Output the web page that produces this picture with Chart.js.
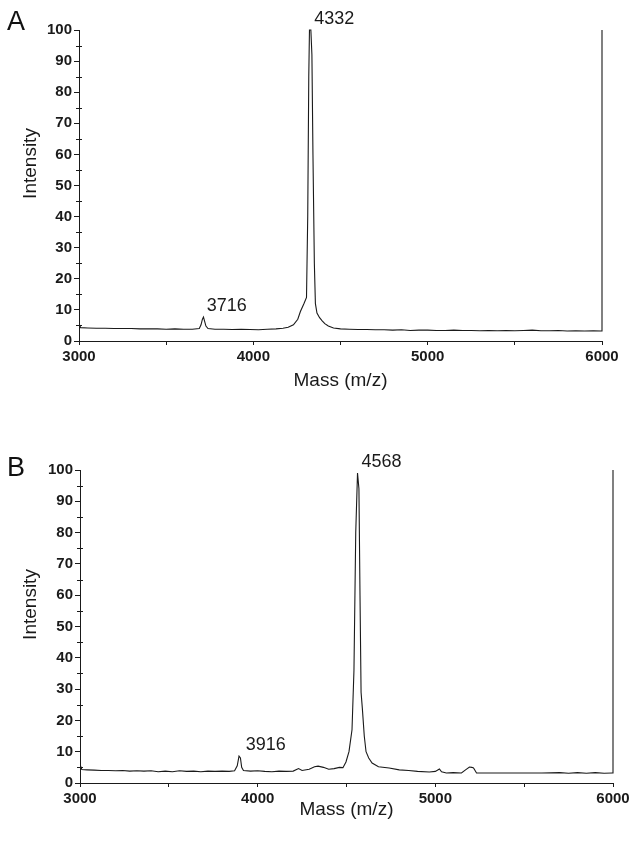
<!DOCTYPE html>
<html lang="en">
<head>
  <meta charset="UTF-8">
  <title>Mass spectra A / B</title>
  <script src="https://cdn.jsdelivr.net/npm/chart.js"></script>
  <style>
    html,
    body {
      margin: 0;
      padding: 0;
      background: #fff;
    }

    body {
      width: 644px;
      height: 845px;
      position: relative;
      overflow: hidden;
      font-family: "Liberation Sans", Arial, sans-serif;
    }

    .panel {
      position: absolute;
      left: 0;
      width: 644px;
    }

    #panelA { top: 0; }
    #panelB { top: 440px; }

    .letter {
      position: absolute;
      left: 7px;
      font-size: 27px;
      line-height: 27px;
      color: #111;
    }
  </style>
</head>

<body>
  <div class="panel" id="panelA">
    <canvas id="chartA" width="644" height="400"></canvas>
    <div class="letter" style="top:8px">A</div>
  </div>
  <div class="panel" id="panelB">
    <canvas id="chartB" width="644" height="390"></canvas>
    <div class="letter" style="top:14px">B</div>
  </div>

  <script>
    // Panel A spectrum
    const massA = [3000, 3004, 3010, 3050, 3100, 3150, 3200, 3250, 3300, 3350, 3400, 3450, 3500, 3550, 3600, 3650,
      3690, 3700, 3708, 3714, 3720, 3728, 3740, 3780, 3830, 3880, 3930, 3980, 4030, 4080, 4130, 4170, 4200, 4230,
      4255, 4270, 4290, 4305, 4312, 4318, 4322, 4330, 4336, 4342, 4350, 4356, 4365, 4380, 4395, 4410, 4430, 4460,
      4500, 4550, 4600, 4650, 4700, 4750, 4800, 4850, 4900, 4950, 5000, 5050, 5100, 5150, 5200, 5250, 5300, 5350,
      5400, 5450, 5500, 5550, 5600, 5650, 5700, 5750, 5800, 5850, 5900, 5950, 5995, 6000, 6000];
    const intensityA = [4.3, 5.1, 4.3, 4.2, 4.1, 4.1, 4.0, 4.0, 4.0, 3.9, 3.9, 3.9, 3.8, 3.9, 3.8, 3.8,
      4.0, 5.2, 7.0, 7.7, 6.5, 4.8, 4.0, 3.8, 3.8, 3.7, 3.8, 3.7, 3.6, 3.8, 3.9, 4.1, 4.4, 5.2,
      7.0, 9.5, 12.0, 14.0, 40, 85, 100, 100, 92, 60, 25, 12, 9, 7.5, 6.5, 5.6, 4.8, 4.2,
      3.9, 3.8, 3.7, 3.7, 3.6, 3.6, 3.5, 3.6, 3.4, 3.5, 3.5, 3.4, 3.4, 3.5, 3.4, 3.4, 3.3, 3.4,
      3.3, 3.4, 3.3, 3.4, 3.5, 3.3, 3.3, 3.4, 3.2, 3.3, 3.2, 3.3, 3.2, 3.2, 100];
    const peakMassA = [3716, 4332];
    const peakHeightA = [7.7, 100];

    // Panel B spectrum
    const massB = [3000, 3004, 3010, 3040, 3080, 3120, 3160, 3200, 3240, 3280, 3320, 3360, 3400, 3440, 3480, 3520,
      3560, 3600, 3640, 3680, 3720, 3760, 3800, 3840, 3870, 3885, 3895, 3903, 3910, 3920, 3960, 4000, 4040, 4080,
      4120, 4160, 4200, 4230, 4250, 4290, 4320, 4340, 4370, 4400, 4430, 4460, 4480, 4497, 4514, 4531, 4542, 4552,
      4562, 4570, 4576, 4582, 4589, 4600, 4610, 4625, 4644, 4680, 4740, 4797, 4850, 4900, 4966, 5000, 5023, 5035,
      5062, 5100, 5147, 5170, 5192, 5205, 5215, 5232, 5400, 5600, 5700, 5750, 5800, 5850, 5900, 5950, 5995, 6000, 6000];
    const intensityB = [4.6, 5.3, 4.3, 4.2, 4.1, 4.0, 4.0, 3.9, 4.0, 3.8, 3.9, 3.8, 3.9, 3.6, 3.8, 3.6,
      3.9, 3.7, 3.8, 3.6, 3.8, 3.7, 3.8, 3.7, 3.9, 5.5, 8.6, 8.0, 5.0, 4.0, 3.8, 3.9, 3.7, 3.6,
      3.8, 3.7, 3.8, 4.6, 4.0, 4.4, 5.2, 5.4, 5.0, 4.4, 4.6, 5.0, 4.9, 6.7, 10, 17, 36, 80,
      99, 94, 60, 29, 24, 15, 10, 8, 6.4, 5.2, 4.8, 4.2, 4.0, 3.7, 3.5, 3.7, 4.5, 3.6,
      3.2, 3.3, 3.2, 4.2, 5.1, 5.0, 4.8, 3.2, 3.2, 3.2, 3.3, 3.1, 3.3, 3.1, 3.3, 3.1, 3.2, 3.2, 100];
    const peakMassB = [3916, 4568];
    const peakHeightB = [8.6, 99];

    const FONT = '"Liberation Sans", Arial, sans-serif';
    const INK = '#1a1a1a';

    // minor y ticks, rotated y title and peak labels
    const extras = {
      id: 'extras',
      afterDraw(chart, args, opts) {
        const { ctx, chartArea } = chart;
        const x = chart.scales.x, y = chart.scales.y;
        ctx.save();
        ctx.strokeStyle = INK;
        ctx.lineWidth = 1;
        for (let v = 5; v < 100; v += 10) {
          const py = Math.round(y.getPixelForValue(v)) + 0.5;
          ctx.beginPath();
          ctx.moveTo(chartArea.left - 3, py);
          ctx.lineTo(chartArea.left + 3, py);
          ctx.stroke();
        }

        ctx.fillStyle = INK;
        ctx.font = '19px ' + FONT;
        ctx.textAlign = 'center';
        ctx.textBaseline = 'middle';
        ctx.translate(31, (chartArea.top + chartArea.bottom) / 2 - 22);
        ctx.rotate(-Math.PI / 2);
        ctx.fillText('Intensity', 0, 0);
        ctx.setTransform(1, 0, 0, 1, 0, 0);

        ctx.font = opts.weight + ' 18px ' + FONT;
        ctx.textAlign = 'left';
        ctx.textBaseline = 'alphabetic';
        opts.masses.forEach((m, i) => {
          ctx.fillText(String(m), x.getPixelForValue(m) + 3, y.getPixelForValue(opts.heights[i]) - 6);
        });
        ctx.restore();
      }
    };

    function makeChart(id, mass, intensity, box, peaks) {
      const ctx = document.getElementById(id).getContext('2d');
      return new Chart(ctx, {
        type: 'line',
        data: {
          datasets: [{
            data: mass.map((m, i) => ({ x: m, y: intensity[i] })),
            borderColor: INK,
            borderWidth: 1.1,
            pointRadius: 0,
            tension: 0,
            fill: false,
            clip: 4
          }]
        },
        options: {
          responsive: false,
          animation: false,
          layout: { padding: { left: 0, right: box.right, top: box.top, bottom: 0 } },
          plugins: {
            legend: { display: false },
            tooltip: { enabled: false },
            extras: peaks
          },
          scales: {
            x: {
              type: 'linear',
              min: 3000,
              max: 6000,
              ticks: {
                stepSize: 500,
                autoSkip: false,
                maxRotation: 0,
                padding: 3,
                color: INK,
                font: { family: FONT, size: 15, weight: 'bold' },
                callback: v => (v % 1000 === 0 ? String(v) : '')
              },
              grid: { drawOnChartArea: false, tickLength: 4, tickColor: INK },
              border: { color: INK, width: 1 },
              title: {
                display: true,
                text: 'Mass (m/z)',
                color: INK,
                font: { family: FONT, size: 19 },
                padding: { top: box.titlePad, bottom: box.titlePad }
              },
              afterFit: s => { s.height = box.xHeight; }
            },
            y: {
              min: 0,
              max: 100,
              ticks: {
                stepSize: 10,
                padding: 2,
                color: INK,
                font: { family: FONT, size: 15, weight: 'bold' }
              },
              grid: { drawOnChartArea: false, tickLength: 5, tickColor: INK },
              border: { color: INK, width: 1 },
              afterFit: s => { s.width = box.left; }
            }
          }
        },
        plugins: [extras]
      });
    }

    makeChart('chartA', massA, intensityA,
      { left: 79, right: 42, top: 30, xHeight: 59, titlePad: 8 },
      { masses: peakMassA, heights: peakHeightA, weight: 'normal' });

    makeChart('chartB', massB, intensityB,
      { left: 80, right: 31, top: 30, xHeight: 47, titlePad: 9 },
      { masses: peakMassB, heights: peakHeightB, weight: 'normal' });
  </script>
</body>

</html>
